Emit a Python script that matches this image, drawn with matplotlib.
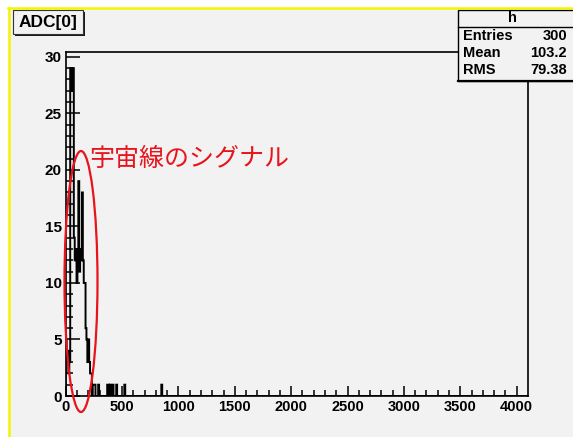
import numpy as np
import matplotlib
matplotlib.use('Agg')
import matplotlib.pyplot as plt
from matplotlib.patches import Rectangle, Ellipse
from matplotlib.lines import Line2D
from matplotlib.ticker import MultipleLocator

plt.rcParams['font.family'] = ['Liberation Sans', 'DejaVu Sans']

# ヒストグラムのデータ（ADC 8 カウント幅のビン）
bin_width = 8
adc_max = 4096
peak_counts = [5, 3, 4, 2, 3, 29, 27, 28, 29, 14, 12, 13, 10, 12, 19, 11,
               13, 12, 18, 12, 10, 10, 6, 5, 3, 5, 3, 2, 2, 0, 1, 1, 1, 0, 0, 0, 1]
tail_adc = [368, 376, 392, 416, 448, 520, 848]   # 1 エントリずつ
tail_counts = [1, 1, 1, 1, 1, 1, 1]

title = 'ADC[0]'
stats_name = 'h'
stats_labels = ['Entries', 'Mean', 'RMS']
stats_values = ['300', '103.2', '79.38']
annotation = '宇宙線のシグナル'

edges = np.arange(0, adc_max + bin_width, bin_width)
counts = np.zeros(len(edges) - 1)
counts[:len(peak_counts)] = peak_counts
for a, c in zip(tail_adc, tail_counts):
    counts[a // bin_width] += c

W, H = 573, 437
bg = '#f2f2f2'
fig = plt.figure(figsize=(W / 100, H / 100), dpi=100, facecolor=bg)

def fx(px):
    return px / W

def fy(py):
    return 1 - py / H

ax = fig.add_axes([fx(65.7), fy(396), fx(527.5) - fx(65.7), fy(51.7) - fy(396)])
ax.set_facecolor(bg)
ax.stairs(counts, edges, color='black', linewidth=1.4)
ax.set_xlim(0, adc_max)
ax.set_ylim(0, 30.45)

ax.xaxis.set_major_locator(MultipleLocator(500))
ax.xaxis.set_minor_locator(MultipleLocator(100))
ax.yaxis.set_major_locator(MultipleLocator(5))
ax.yaxis.set_minor_locator(MultipleLocator(1))
ax.tick_params(axis='x', which='major', direction='in', length=7.2, width=1.1,
               labelsize=10.5, pad=3, top=False)
ax.tick_params(axis='x', which='minor', direction='in', length=4, width=1.1, top=False)
ax.tick_params(axis='y', which='major', direction='in', length=10, width=1.1,
               labelsize=11, pad=3, right=False)
ax.tick_params(axis='y', which='minor', direction='in', length=5, width=1.1, right=False)
for lab in ax.get_xticklabels() + ax.get_yticklabels():
    lab.set_fontweight('bold')
for s in ax.spines.values():
    s.set_linewidth(1.2)

# 外枠（白い余白と黄色い線）
fig.patches.append(Rectangle((0, 0), fx(7.5), 1, transform=fig.transFigure,
                             facecolor='white', edgecolor='none', zorder=0))
fig.patches.append(Rectangle((0, fy(7.5)), 1, 7.5 / H, transform=fig.transFigure,
                             facecolor='white', edgecolor='none', zorder=0))
fig.add_artist(Line2D([fx(8.8), fx(8.8)], [0, fy(8)], color='#f5f500', linewidth=1.8,
                      transform=fig.transFigure))
fig.add_artist(Line2D([fx(8), 1], [fy(8.3), fy(8.3)], color='#f5f500', linewidth=1.8,
                      transform=fig.transFigure))

# タイトルボックス
fig.add_artist(Rectangle((fx(14.5), fy(36)), fx(85) - fx(14.5), fy(12) - fy(36),
                         transform=fig.transFigure, facecolor='#1a1a1a', edgecolor='none'))
fig.add_artist(Rectangle((fx(12.7), fy(34)), fx(83) - fx(12.7), fy(10) - fy(34),
                         transform=fig.transFigure, facecolor=bg, edgecolor='#333333',
                         linewidth=0.8))
fig.text(fx(48), fy(22), title, ha='center', va='center', fontsize=12.5,
         fontweight='bold')

# 統計ボックス
fig.add_artist(Rectangle((fx(457.7), fy(81)), 1, fy(9.5) - fy(81),
                         transform=fig.transFigure, facecolor=bg, edgecolor='black',
                         linewidth=1.0))
fig.add_artist(Line2D([fx(457.7), 1], [fy(80.5), fy(80.5)], color='black', linewidth=1.6,
                      transform=fig.transFigure))
fig.add_artist(Line2D([fx(457.7), 1], [fy(27), fy(27)], color='black', linewidth=1.0,
                      transform=fig.transFigure))
fig.text(fx(512), fy(17.5), stats_name, ha='center', va='center', fontsize=10.5,
         fontweight='bold')
for i, (lab, val) in enumerate(zip(stats_labels, stats_values)):
    y = fy(35.5 + i * 17.5)
    fig.text(fx(463), y, lab, ha='left', va='center', fontsize=10.5, fontweight='bold')
    fig.text(fx(567), y, val, ha='right', va='center', fontsize=10.5, fontweight='bold')

# 注釈（赤い楕円と文字）
fig.add_artist(Ellipse((fx(81), fy(281.5)), fx(33), 261 / H, transform=fig.transFigure,
                       fill=False, edgecolor='#e8141c', linewidth=1.6))
fig.text(fx(89), fy(159), annotation, ha='left', va='center', fontsize=18,
         color='#e8141c', family=['Noto Sans CJK JP', 'DejaVu Sans'])

fig.savefig('out.png', dpi=100, facecolor=bg)
